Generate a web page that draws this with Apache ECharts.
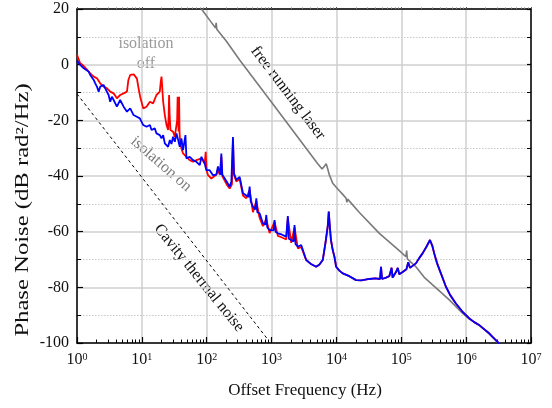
<!DOCTYPE html>
<html>
<head>
<meta charset="utf-8">
<script src="https://cdn.jsdelivr.net/npm/echarts@6/dist/echarts.min.js"></script>
<style>html,body{margin:0;padding:0;background:#fff}#c{width:552px;height:408px}</style>
</head>
<body>
<div id="c"></div>
<script>
// Data: [frequency (Hz), phase noise (dB rad^2/Hz)]
const blueData = [[1,1.5],[1.12,-0.1],[1.27,-1.3],[1.34,-0.7],[1.51,-2.5],[1.6,-3.7],[1.81,-5.5],[1.91,-6.7],[2.03,-7.9],[2.16,-9.7],[2.28,-7.9],[2.57,-7.3],[2.72,-8.5],[3.07,-10.9],[3.25,-13.3],[3.45,-11.5],[3.67,-12.7],[3.89,-13.9],[4.12,-15.1],[4.63,-12.7],[5.23,-15.1],[5.89,-16.9],[6.61,-15.7],[7.45,-18.1],[8.37,-18.7],[9.31,-19.3],[10.5,-21.7],[11.8,-22.3],[13.3,-21.7],[14.1,-23.5],[15.8,-22.9],[16.8,-24.7],[18.9,-25.3],[20.1,-26.5],[21.3,-25.3],[22.6,-28.3],[24,-27.7],[25.4,-29.5],[27,-27.1],[28.6,-28.5],[30.3,-25.9],[32.2,-27.7],[34.2,-24.7],[36.3,-27.1],[38.4,-29.5],[40.7,-26.5],[43.2,-30.7],[45.5,-31.3],[47,-25.3],[48.7,-33.7],[54.7,-33.1],[61.5,-34.3],[69.4,-34.9],[78.2,-36.1],[82.9,-33.1],[93.1,-35.5],[98.9,-37.9],[111,-37.9],[125,-39.7],[141,-39.5],[149,-36.6],[158,-38.5],[163,-39.5],[168,-31.9],[174,-39.5],[183,-40],[203,-42],[226,-43.9],[240,-42],[245,-42.5],[254,-26],[263,-39],[286,-41.4],[322,-40.3],[362,-46.2],[408,-47],[443,-47.5],[459,-43.8],[476,-49],[516,-51],[562,-52],[582,-48],[603,-53],[653,-53.4],[735,-57],[800,-57.5],[829,-54],[859,-58.5],[931,-59.4],[1073,-59.5],[1112,-55.8],[1152,-60],[1250,-60.6],[1426,-61],[1683,-61.8],[1720,-62],[1782,-54.4],[1846,-62.5],[2010,-63],[2181,-63.5],[2260,-57.6],[2341,-64.5],[2541,-65.4],[2865,-64.8],[3418,-70.2],[3981,-71.5],[4873,-72.6],[5475,-71.8],[6155,-70.2],[6776,-64],[7350,-58],[7618,-52.8],[7900,-58],[8230,-63],[8771,-66.6],[9311,-69],[9890,-72.6],[11100,-74],[12500,-75],[15800,-76],[20100,-77.4],[24300,-77.5],[32200,-77],[39800,-76.8],[47000,-77],[48700,-72.6],[50500,-77],[58200,-76.5],[65300,-76],[68400,-76.5],[70900,-73],[73500,-76.5],[82900,-74.5],[88300,-73],[93100,-75.3],[105000,-74.5],[120000,-73.5],[128000,-71],[136000,-73],[168000,-71.4],[189000,-69.5],[213000,-67.8],[243000,-65.5],[277000,-63],[300000,-65],[322000,-67.8],[358000,-71.5],[408000,-75],[488000,-79.8],[568000,-82.8],[695000,-85.8],[867000,-88.6],[1110000,-91.1],[1330000,-92.5],[1580000,-93.5],[1890000,-95],[2260000,-96.5],[2600000,-98],[3030000,-99.5],[3200000,-100.3]];

const redEarly = [[1,3.5],[1.12,0.5],[1.27,-0.5],[1.6,-3.1],[1.81,-4.3],[2.03,-4.9],[2.28,-6.7],[2.57,-7.9],[2.9,-8.5],[3.25,-9.7],[3.67,-10.3],[4.12,-12.1],[4.63,-10.9],[5.23,-10.3],[5.89,-9.7],[6.2,-5.5],[6.61,-3.7],[7.5,-3.5],[7.9,-3.7],[8.4,-5],[8.8,-7.9],[9.41,-11.5],[10.5,-15.7],[11.8,-15.1],[13.3,-13.3],[14.9,-13.9],[16.8,-10.9],[18.9,-9.7],[19.6,-6],[20.1,-4.3],[20.6,-8],[21.3,-13.3],[22.6,-18.1],[24,-21.7],[25.4,-23.5],[25.9,-18],[26.3,-10.9],[26.8,-18],[27.6,-23.5],[30.3,-24.1],[32.2,-25.9],[34.2,-25.3],[35,-20],[35.6,-11.5],[36.3,-20],[36.9,-24],[37.5,-11.5],[38.1,-24],[38.8,-27.7],[40.7,-30.1],[43.2,-31.9],[48.7,-33.1],[54.7,-34.3],[61.5,-34.9],[69.4,-34.3],[82.9,-33.7],[93.1,-35.5],[96.4,-31.3],[99.9,-38],[104.7,-39.7],[118,-40.9],[125,-40.5],[141,-39.5],[149,-37.5],[158,-39.5],[163,-40],[168,-33],[174,-40],[183,-41],[203,-43],[226,-44.5],[245,-43],[254,-27],[263,-39.5],[286,-42],[322,-41],[362,-47],[408,-48],[459,-45],[516,-53],[582,-49],[653,-55],[735,-58],[829,-55.5],[931,-60.5],[1112,-56.5],[1250,-61.5],[1426,-62],[1683,-62.8],[1782,-55],[2010,-64],[2260,-58.5],[2541,-66],[2865,-65.5]];

const grayData = [[83,20],[111,16],[137,13.2],[140,15],[143,12.7],[200,8.5],[322,1.7],[1000,-13.5],[2700,-26.9],[5080,-35.4],[6000,-37.5],[6520,-36.5],[6960,-35.6],[7350,-37.5],[7750,-39.5],[8770,-42.6],[10000,-44.1],[11100,-45.3],[12600,-46.7],[14100,-48],[14500,-49.5],[14900,-48.3],[22400,-53],[45900,-60.6],[93100,-66.8],[118000,-69],[121000,-66.8],[124000,-69.8],[168000,-72.6],[226000,-76.4],[371000,-80.9],[550000,-84.5],[877000,-89.3],[1110000,-91.3],[1580000,-93.6],[2260000,-96.6],[3200000,-100.3]];

const thermalData = [[1,-10.5],[880,-98.8]];

const yTicks = [20, 0, -20, -40, -60, -80, -100];
const xExponents = [0, 1, 2, 3, 4, 5, 6, 7];

const redData = redEarly.concat(blueData.filter(p => p[0] > redEarly[redEarly.length - 1][0]));

const FONT = '"Liberation Serif", "Times New Roman", serif';
const chart = echarts.init(document.getElementById('c'));

const xCommon = {
  type: 'log', logBase: 10, min: 1, max: 1e7, splitNumber: 7
};
const yCommon = {
  type: 'value', min: yTicks[yTicks.length - 1], max: yTicks[0], interval: 20
};

chart.setOption({
  animation: false,
  backgroundColor: '#fff',
  grid: { left: 77, right: 21, top: 9, bottom: 65, show: false },
  xAxis: [
    Object.assign({}, xCommon, {
      position: 'bottom',
      axisLine: { show: true, onZero: false, lineStyle: { color: '#000', width: 1.5 } },
      axisTick: { show: true, inside: true, length: 6, lineStyle: { color: '#000', width: 1.2 } },
      minorTick: { show: true, splitNumber: 9, length: 3.5, lineStyle: { color: '#000', width: 1 } },
      splitLine: { show: true, lineStyle: { color: '#cfcfcf', width: 1.5 } },
      minorSplitLine: { show: false },
      axisLabel: {
        margin: 9,
        color: '#111',
        fontFamily: FONT,
        fontSize: 16,
        showMinLabel: true, showMaxLabel: true,
        formatter: v => {
          const e = Math.round(Math.log10(v));
          return xExponents.indexOf(e) >= 0 ? '10{s|' + e + '}' : '';
        },
        rich: { s: { fontSize: 10, fontFamily: FONT, verticalAlign: 'top', lineHeight: 10, color: '#111' } }
      }
    }),
    Object.assign({}, xCommon, {
      position: 'top',
      axisLine: { show: true, onZero: false, lineStyle: { color: '#000', width: 1.5 } },
      axisTick: { show: true, inside: false, length: 2, lineStyle: { color: '#555', width: 1 } },
      minorTick: { show: true, splitNumber: 9, length: 1.5, lineStyle: { color: '#777', width: 1 } },
      splitLine: { show: false },
      axisLabel: { show: false }
    })
  ],
  yAxis: [
    Object.assign({}, yCommon, {
      position: 'left',
      axisLine: { show: true, onZero: false, lineStyle: { color: '#000', width: 1.5 } },
      axisTick: { show: true, inside: true, length: 6, lineStyle: { color: '#000', width: 1.2 } },
      minorTick: { show: true, splitNumber: 2, length: 4, lineStyle: { color: '#000', width: 1 } },
      splitLine: { show: true, lineStyle: { color: '#cfcfcf', width: 1.5 } },
      minorSplitLine: { show: true, lineStyle: { color: '#c8c8c8', width: 1, type: [1.5, 1.5] } },
      axisLabel: { margin: 8, color: '#111', fontFamily: FONT, fontSize: 16 }
    }),
    Object.assign({}, yCommon, {
      position: 'right',
      axisLine: { show: true, onZero: false, lineStyle: { color: '#000', width: 1.5 } },
      axisTick: { show: true, inside: true, length: 4, lineStyle: { color: '#000', width: 1.2 } },
      minorTick: { show: true, splitNumber: 2, length: 4, lineStyle: { color: '#000', width: 1 } },
      splitLine: { show: false },
      axisLabel: { show: false }
    })
  ],
  series: [
    { name: 'free running laser', type: 'line', data: grayData, showSymbol: false, symbol: 'none',
      lineStyle: { color: '#7a7a7a', width: 1.6 }, z: 3 },
    { name: 'Cavity thermal noise', type: 'line', data: thermalData, showSymbol: false, symbol: 'none',
      lineStyle: { color: '#000', width: 1, type: [3, 3] }, z: 3 },
    { name: 'isolation off', type: 'line', data: redData, showSymbol: false, symbol: 'none',
      lineStyle: { color: '#ff0000', width: 1.8 }, z: 4 },
    { name: 'isolation on', type: 'line', data: blueData, showSymbol: false, symbol: 'none',
      lineStyle: { color: '#0000ff', width: 1.8 }, z: 5 }
  ],
  graphic: [
    { type: 'text', x: 146, y: 44, style: { text: 'isolation', fill: '#9a9a9a', font: '16px ' + FONT, align: 'center', verticalAlign: 'middle' } },
    { type: 'text', x: 146, y: 64, style: { text: 'off', fill: '#9a9a9a', font: '16px ' + FONT, align: 'center', verticalAlign: 'middle' } },
    { type: 'text', x: 161, y: 164, rotation: -0.72, style: { text: 'isolation on', fill: '#7a7a7a', font: '16px ' + FONT, align: 'center', verticalAlign: 'middle' } },
    { type: 'text', x: 288, y: 93, rotation: -0.92, style: { text: 'free running laser', fill: '#111', font: '16px ' + FONT, align: 'center', verticalAlign: 'middle' } },
    { type: 'text', x: 199, y: 278, rotation: -0.89, style: { text: 'Cavity thermal noise', fill: '#111', font: '16px ' + FONT, align: 'center', verticalAlign: 'middle' } },
    { type: 'text', x: 23, y: 210, rotation: Math.PI / 2, scaleX: 1.37, style: { text: 'Phase Noise (dB rad\u00B2/Hz)', fill: '#111', font: '18px ' + FONT, align: 'center', verticalAlign: 'middle' } },
    { type: 'text', x: 305, y: 391, style: { text: 'Offset Frequency (Hz)', fill: '#111', font: '17px ' + FONT, align: 'center', verticalAlign: 'middle' } }
  ]
});
</script>
</body>
</html>
